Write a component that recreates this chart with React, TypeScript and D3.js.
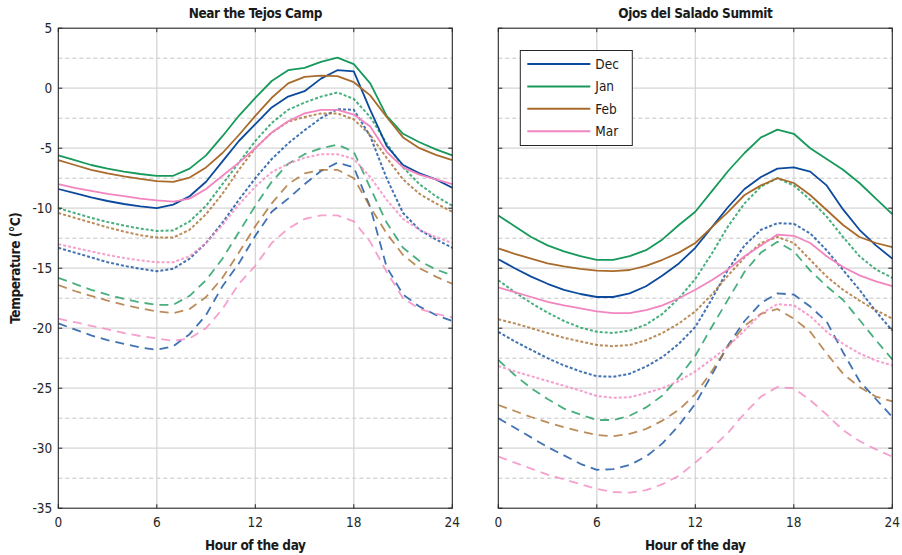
import * as d3 from "d3";

// hour of the day (x values)
const HOURS = [0, 1, 2, 3, 4, 5, 6, 7, 8, 9, 10, 11, 12, 13, 14, 15, 16, 17, 18, 19, 20, 21, 22, 23, 24];
const MONTHS = ["Dec", "Jan", "Feb", "Mar"];
const MONTH_COLORS = ["#0b4a9c", "#16995a", "#a86b2c", "#f285bf"];
const X_TICKS = [0, 6, 12, 18, 24];
const Y_TICKS = [5, 0, -5, -10, -15, -20, -25, -30, -35];
const Y_MINOR = [2.5, -2.5, -7.5, -12.5, -17.5, -22.5, -27.5, -32.5];

// --- Near the Tejos Camp ---
const tejosDecSolid = [-8.4, -8.75, -9.1, -9.4, -9.65, -9.85, -10.0, -9.7, -9.0, -7.8, -6.1, -4.4, -3.0, -1.6, -0.7, -0.25, 0.8, 1.5, 1.4, -1.8, -4.8, -6.4, -7.1, -7.6, -8.3];
const tejosJanSolid = [-5.6, -6.0, -6.4, -6.7, -6.95, -7.15, -7.3, -7.3, -6.7, -5.6, -4.0, -2.3, -0.8, 0.6, 1.5, 1.7, 2.2, 2.55, 2.0, 0.4, -2.3, -3.8, -4.5, -5.1, -5.6];
const tejosFebSolid = [-6.0, -6.4, -6.8, -7.1, -7.35, -7.55, -7.75, -7.8, -7.45, -6.6, -5.4, -3.9, -2.3, -0.8, 0.4, 0.95, 1.05, 1.0, 0.5, -0.6, -2.4, -4.1, -5.0, -5.55, -6.0];
const tejosMarSolid = [-8.0, -8.3, -8.55, -8.8, -9.0, -9.2, -9.35, -9.45, -9.2, -8.4, -7.3, -6.2, -5.0, -3.7, -2.75, -2.1, -1.8, -1.8, -2.2, -3.2, -5.3, -6.6, -7.2, -7.6, -8.0];

const tejosDecDotted = [-13.3, -13.7, -14.1, -14.5, -14.8, -15.05, -15.25, -15.05, -14.2, -12.9, -11.2, -9.3, -7.5, -5.9, -4.6, -3.5, -2.5, -1.75, -1.8, -4.0, -7.5, -10.4, -11.8, -12.6, -13.3];
const tejosJanDotted = [-10.0, -10.4, -10.8, -11.15, -11.45, -11.7, -11.9, -11.85, -11.1, -9.8, -8.0, -6.2, -4.4, -2.9, -1.8, -1.2, -0.7, -0.35, -0.9, -2.4, -4.6, -6.6, -8.0, -9.0, -9.8];
const tejosFebDotted = [-10.4, -10.8, -11.2, -11.6, -11.95, -12.25, -12.45, -12.45, -11.8, -10.5, -8.8, -6.8, -5.0, -3.7, -2.8, -2.4, -2.1, -2.1, -2.6, -3.9, -5.8, -7.6, -8.8, -9.6, -10.3];
const tejosMarDotted = [-13.0, -13.3, -13.6, -13.9, -14.15, -14.35, -14.5, -14.5, -14.0, -12.9, -11.4, -9.7, -8.2, -7.0, -6.3, -5.8, -5.5, -5.5, -5.9, -7.4, -9.3, -10.9, -11.8, -12.4, -12.9];

const tejosDecDashed = [-19.6, -20.1, -20.6, -21.0, -21.3, -21.6, -21.8, -21.5, -20.5, -18.9, -16.5, -14.6, -12.3, -10.3, -9.2, -8.0, -6.9, -6.2, -6.6, -9.9, -14.9, -17.2, -18.2, -18.9, -19.4];
const tejosJanDashed = [-15.8, -16.3, -16.8, -17.2, -17.55, -17.85, -18.05, -18.05, -17.3, -16.0, -14.2, -12.0, -9.8, -7.8, -6.3, -5.5, -5.0, -4.7, -5.3, -8.3, -11.2, -13.3, -14.4, -15.1, -15.6];
const tejosFebDashed = [-16.4, -16.9, -17.3, -17.7, -18.05, -18.35, -18.6, -18.75, -18.4, -17.4, -15.8, -13.7, -11.5, -9.6, -8.0, -7.1, -6.8, -6.8, -7.5, -9.9, -12.1, -13.9, -15.0, -15.7, -16.3];
const tejosMarDashed = [-19.2, -19.5, -19.8, -20.1, -20.4, -20.65, -20.85, -21.05, -20.85, -20.0, -18.4, -16.3, -14.8, -12.9, -11.7, -10.9, -10.6, -10.6, -11.1, -12.8, -15.3, -17.5, -18.4, -18.8, -19.1];

// --- Ojos del Salado Summit ---
const ojosDecSolid = [-14.25, -15.0, -15.7, -16.3, -16.8, -17.15, -17.4, -17.4, -17.1, -16.5, -15.6, -14.6, -13.3, -11.6, -9.9, -8.4, -7.4, -6.7, -6.6, -6.95, -8.1, -10.1, -11.8, -13.1, -14.2];
const ojosJanSolid = [-10.6, -11.5, -12.4, -13.1, -13.6, -14.0, -14.3, -14.3, -14.0, -13.5, -12.6, -11.4, -10.3, -8.6, -6.9, -5.4, -4.1, -3.45, -3.8, -5.0, -5.9, -6.8, -7.9, -9.2, -10.5];
const ojosFebSolid = [-13.35, -13.8, -14.2, -14.6, -14.85, -15.05, -15.2, -15.25, -15.15, -14.8, -14.3, -13.7, -12.9, -11.6, -10.3, -8.9, -8.1, -7.5, -7.9, -8.9, -10.15, -11.4, -12.4, -12.9, -13.25];
const ojosMarSolid = [-16.6, -17.0, -17.4, -17.8, -18.1, -18.35, -18.6, -18.75, -18.75, -18.5, -18.1, -17.5, -16.8, -16.0, -15.1, -14.0, -13.1, -12.2, -12.3, -12.9, -14.0, -14.9, -15.6, -16.1, -16.5];

const ojosDecDotted = [-20.3, -21.1, -21.8, -22.5, -23.1, -23.6, -24.0, -24.05, -23.8, -23.2, -22.4, -21.3, -19.9, -17.6, -15.1, -13.1, -11.8, -11.25, -11.3, -12.1, -13.5, -15.15, -16.8, -18.6, -20.2];
const ojosJanDotted = [-16.0, -17.0, -17.9, -18.7, -19.4, -19.95, -20.3, -20.4, -20.2, -19.7, -18.8, -17.5, -15.9, -13.8, -11.5, -9.6, -8.2, -7.5, -8.1, -9.3, -10.7, -12.4, -14.0, -15.1, -15.8];
const ojosFebDotted = [-19.25, -19.6, -20.0, -20.4, -20.8, -21.1, -21.4, -21.5, -21.4, -21.0, -20.4, -19.6, -18.6, -17.2, -15.6, -14.1, -12.9, -12.4, -12.9, -14.3, -15.7, -16.8, -17.7, -18.5, -19.2];
const ojosMarDotted = [-23.15, -23.6, -24.0, -24.4, -24.8, -25.2, -25.65, -25.8, -25.75, -25.4, -25.0, -24.4, -23.6, -22.6, -21.5, -20.2, -18.8, -18.0, -18.1, -19.0, -20.3, -21.3, -22.1, -22.7, -23.1];

const ojosDecDashed = [-27.5, -28.3, -29.1, -29.9, -30.6, -31.3, -31.8, -31.75, -31.4, -30.7, -29.6, -28.1, -26.3, -23.9, -21.4, -19.4, -17.9, -17.1, -17.2, -18.2, -19.45, -22.0, -24.4, -25.9, -27.4];
const ojosJanDashed = [-22.65, -23.9, -25.0, -25.9, -26.7, -27.2, -27.65, -27.65, -27.3, -26.6, -25.6, -24.1, -22.3, -19.9, -17.6, -15.3, -13.7, -12.8, -13.6, -15.2, -16.5, -17.65, -19.3, -21.0, -22.6];
const ojosFebDashed = [-26.4, -26.9, -27.4, -27.85, -28.25, -28.6, -28.9, -29.0, -28.8, -28.4, -27.7, -26.8, -25.5, -23.6, -21.5, -19.8, -18.8, -18.4, -19.2, -20.3, -22.1, -23.8, -24.9, -25.7, -26.1];
const ojosMarDashed = [-30.7, -31.2, -31.7, -32.2, -32.6, -33.0, -33.4, -33.65, -33.7, -33.5, -33.0, -32.3, -31.2, -30.0, -28.7, -27.1, -25.7, -24.9, -25.0, -26.0, -27.2, -28.5, -29.4, -30.1, -30.7];

type Style = "solid" | "dotted" | "dashed";
type Series = { month: number; style: Style; values: number[] };

const tejosSeries: Series[] = [
  { month: 0, style: "dashed", values: tejosDecDashed },
  { month: 1, style: "dashed", values: tejosJanDashed },
  { month: 2, style: "dashed", values: tejosFebDashed },
  { month: 3, style: "dashed", values: tejosMarDashed },
  { month: 0, style: "dotted", values: tejosDecDotted },
  { month: 1, style: "dotted", values: tejosJanDotted },
  { month: 2, style: "dotted", values: tejosFebDotted },
  { month: 3, style: "dotted", values: tejosMarDotted },
  { month: 0, style: "solid", values: tejosDecSolid },
  { month: 1, style: "solid", values: tejosJanSolid },
  { month: 2, style: "solid", values: tejosFebSolid },
  { month: 3, style: "solid", values: tejosMarSolid },
];

const ojosSeries: Series[] = [
  { month: 0, style: "dashed", values: ojosDecDashed },
  { month: 1, style: "dashed", values: ojosJanDashed },
  { month: 2, style: "dashed", values: ojosFebDashed },
  { month: 3, style: "dashed", values: ojosMarDashed },
  { month: 0, style: "dotted", values: ojosDecDotted },
  { month: 1, style: "dotted", values: ojosJanDotted },
  { month: 2, style: "dotted", values: ojosFebDotted },
  { month: 3, style: "dotted", values: ojosMarDotted },
  { month: 0, style: "solid", values: ojosDecSolid },
  { month: 1, style: "solid", values: ojosJanSolid },
  { month: 2, style: "solid", values: ojosFebSolid },
  { month: 3, style: "solid", values: ojosMarSolid },
];

const FONT = "'DejaVu Sans Condensed', 'Liberation Sans Narrow', sans-serif";
const TOP = 28.2;
const BOTTOM = 508.2;
const PANEL_W = 394;

const dashFor = (s: Style) => (s === "dotted" ? "3,2" : s === "dashed" ? "9,6" : undefined);

function Panel({ left, title, series, yLabels, legend }: { left: number; title: string; series: Series[]; yLabels: boolean; legend: boolean }) {
  const x = d3.scaleLinear().domain([0, 24]).range([left, left + PANEL_W]);
  const y = d3.scaleLinear().domain([-35, 5]).range([BOTTOM, TOP]);
  const line = d3
    .line<number>()
    .x((_d, i) => x(HOURS[i]))
    .y((d) => y(d));
  const cx = left + PANEL_W / 2;

  return (
    <g>
      {/* grid */}
      {Y_MINOR.map((v) => (
        <line key={"mn" + v} x1={left} x2={left + PANEL_W} y1={y(v)} y2={y(v)} stroke="#c4c4c4" strokeWidth={1} strokeDasharray="4,3" />
      ))}
      {Y_TICKS.slice(1, -1).map((v) => (
        <line key={"mj" + v} x1={left} x2={left + PANEL_W} y1={y(v)} y2={y(v)} stroke="#d6d6d6" strokeWidth={1.3} />
      ))}
      {X_TICKS.slice(1, -1).map((h) => (
        <line key={"vx" + h} x1={x(h)} x2={x(h)} y1={TOP} y2={BOTTOM} stroke="#d6d6d6" strokeWidth={1.3} />
      ))}

      {/* series */}
      {series.map((s, i) => (
        <path
          key={i}
          d={line(s.values) ?? ""}
          fill="none"
          stroke={MONTH_COLORS[s.month]}
          strokeOpacity={s.style === "solid" ? 1 : 0.78}
          strokeWidth={s.style === "dotted" ? 2 : 1.8}
          strokeDasharray={dashFor(s.style)}
          strokeLinejoin="round"
        />
      ))}

      {/* frame and ticks */}
      <rect x={left} y={TOP} width={PANEL_W} height={BOTTOM - TOP} fill="none" stroke="#262626" strokeWidth={1.1} />
      {Y_TICKS.map((v) => (
        <g key={"yt" + v}>
          <line x1={left} x2={left + 4} y1={y(v)} y2={y(v)} stroke="#262626" />
          <line x1={left + PANEL_W - 4} x2={left + PANEL_W} y1={y(v)} y2={y(v)} stroke="#262626" />
          {yLabels && (
            <text x={left - 6} y={y(v)} dy="0.35em" textAnchor="end" fontSize={13.5} fontFamily={FONT} fill="#262626">
              {v}
            </text>
          )}
        </g>
      ))}
      {X_TICKS.map((h) => (
        <g key={"xt" + h}>
          <line x1={x(h)} x2={x(h)} y1={BOTTOM} y2={BOTTOM - 4} stroke="#262626" />
          <line x1={x(h)} x2={x(h)} y1={TOP} y2={TOP + 4} stroke="#262626" />
          <text x={x(h)} y={BOTTOM + 19} textAnchor="middle" fontSize={13.5} fontFamily={FONT} fill="#262626">
            {h}
          </text>
        </g>
      ))}

      <text x={cx} y={18} textAnchor="middle" fontSize={13.5} fontWeight="bold" letterSpacing={-0.4} fontFamily={FONT} fill="#1a1a1a">
        {title}
      </text>
      <text x={cx} y={550} textAnchor="middle" fontSize={13.5} fontWeight="bold" letterSpacing={-0.4} fontFamily={FONT} fill="#1a1a1a">
        Hour of the day
      </text>

      {legend && (
        <g>
          <rect x={left + 22} y={50.5} width={112} height={95} fill="#fff" stroke="#262626" strokeWidth={1} />
          {MONTHS.map((m, i) => (
            <g key={m}>
              <line x1={left + 29} x2={left + 92} y1={64 + i * 22.4} y2={64 + i * 22.4} stroke={MONTH_COLORS[i]} strokeWidth={2} />
              <text x={left + 97} y={64 + i * 22.4} dy="0.35em" fontSize={13.5} fontFamily={FONT} fill="#1a1a1a">
                {m}
              </text>
            </g>
          ))}
        </g>
      )}
    </g>
  );
}

export default function App() {
  return (
    <svg width={902} height={555} style={{ position: "absolute", left: 0, top: 0, background: "#fff" }}>
      <rect width={902} height={555} fill="#fff" />
      <Panel left={58.3} title="Near the Tejos Camp" series={tejosSeries} yLabels legend={false} />
      <Panel left={498.3} title="Ojos del Salado Summit" series={ojosSeries} yLabels={false} legend />
      <text
        transform={`translate(20, ${(TOP + BOTTOM) / 2}) rotate(-90)`}
        textAnchor="middle"
        fontSize={13.5}
        fontWeight="bold"
        letterSpacing={-0.4}
        fontFamily={FONT}
        fill="#1a1a1a"
      >
        Temperature (°C)
      </text>
    </svg>
  );
}
